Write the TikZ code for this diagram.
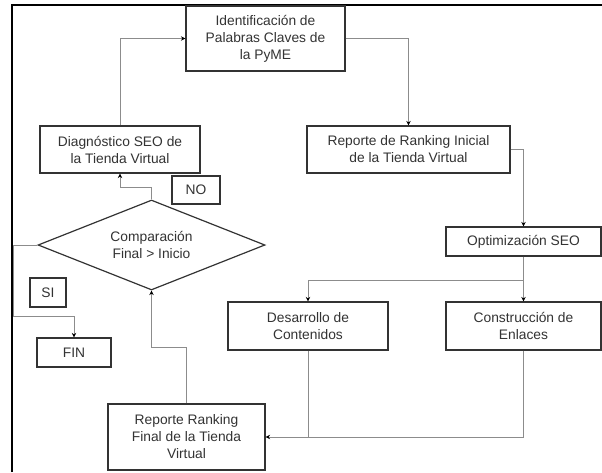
\documentclass[tikz,border=0pt]{standalone}
\usepackage{fontspec}
\setmainfont{Liberation Sans}
\usepackage{tikz}
\usetikzlibrary{shapes.geometric}
\usetikzlibrary{arrows.meta}

\begin{document}
\begin{tikzpicture}[x=1pt, y=-1pt,
    proc/.style={draw=black!80, line width=1.2pt, fill=white, text=black!80, align=center,
                 inner sep=0pt, font=\fontsize{13.8}{17}\selectfont},
    cond/.style={proc, diamond, aspect=2.52, minimum width=227pt, minimum height=90pt},
    conn/.style={draw=black!45, line width=0.9pt},
    arr/.style={conn, -{Stealth[black, length=4.5pt, width=4.5pt]}}]
                        % Page size and the two visible frame edges
                        \useasboundingbox (0,0) rectangle (602,472);
                        \draw[line width=1.5pt] (12,472) -- (12,5) -- (602,5);

                        % Process boxes, placed at pixel coordinates
                        \node[proc, minimum width=159pt, minimum height=65pt] (ident) at (265.5,38.5) {Identificación de\\Palabras Claves de\\la PyME};
                        \node[proc, minimum width=160pt, minimum height=47pt] (diag) at (120,149.5) {Diagnóstico SEO de\\la Tienda Virtual};
                        \node[proc, minimum width=203pt, minimum height=47pt] (inicial) at (408.5,149.5) {Reporte de Ranking  Inicial\\de la Tienda Virtual};
                        \node[proc, minimum width=48pt, minimum height=28pt] (no) at (196,190) {NO};
                        \node[cond] (comp) at (151.5,245) {Comparación\\Final > Inicio};
                        \node[proc, minimum width=155pt, minimum height=29pt] (optim) at (523.5,241.5) {Optimización SEO};
                        \node[proc, minimum width=160pt, minimum height=48pt] (desa) at (308,326) {Desarrollo de\\Contenidos};
                        \node[proc, minimum width=155pt, minimum height=48pt] (constr) at (523.5,326) {Construcción de\\Enlaces};
                        \node[proc, minimum width=36pt, minimum height=29pt] (si) at (48,292.5) {SI};
                        \node[proc, minimum width=74pt, minimum height=29pt] (fin) at (74,352.5) {FIN};
                        \node[proc, minimum width=157pt, minimum height=66pt] (final) at (186.5,437) {Reporte Ranking\\Final de la Tienda\\Virtual};

                        % Helper points for the elbow connectors
                        \coordinate (split) at (optim.south |- 0,280);
                        \coordinate (merge) at (desa.south |- final.east);
                        \coordinate (side) at (13,245);

                        % Draw connectors
                        % \draw[parameters] (fromWhere) -- (toWhere);
                        \draw[arr] (diag.north) |- (ident.west);
                        \draw[arr] (ident.east) -| (inicial.north);
                        \draw[arr] (inicial.east) -| (optim.north);
                        \draw[conn] (optim.south) -- (split);
                        \draw[arr] (split) -- (constr.north);
                        \draw[arr] (split) -| (desa.north);
                        \draw[conn] (constr.south) |- (merge);
                        \draw[arr] (desa.south) |- (final.east);
                        \draw[arr] (final.north) -- ++(0,-56) -| (comp.south);
                        \draw[arr] (comp.north) -- ++(0,-12) -| (diag.south);
                        \draw[conn] (comp.west) -- (side);
                        \draw[arr] (side) |- ++(61,71) -- (fin.north);

                    \end{tikzpicture}
\end{document}
